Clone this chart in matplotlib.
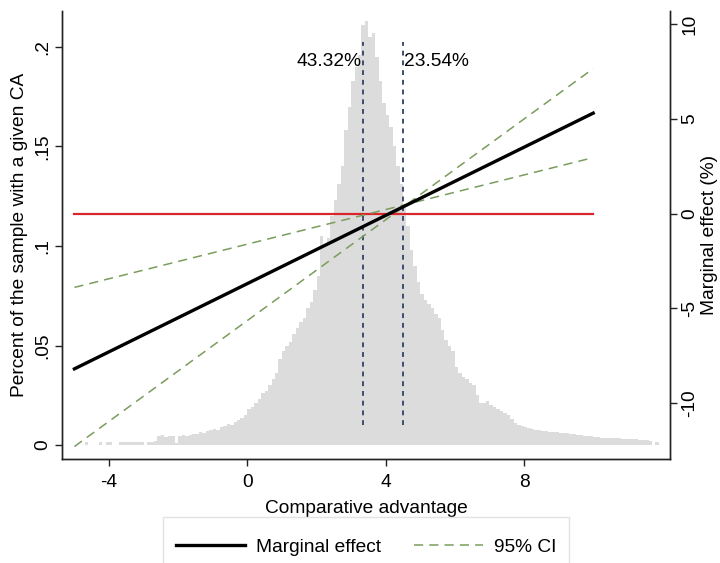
import numpy as np
import matplotlib.pyplot as plt
from matplotlib.patches import Rectangle

plt.rcParams['font.family'] = ['Liberation Sans', 'DejaVu Sans']
plt.rcParams['axes.unicode_minus'] = False

# histogram of comparative advantage (left axis), bins of width 0.1
bin_start = -4.7
bin_width = 0.1
hist_heights = [
    0.0015, 0, 0, 0, 0.0015, 0, 0.0015, 0.0015, 0, 0,
    0.0016, 0.0015, 0.0016, 0.0015, 0.0016, 0.0015, 0.0016, 0, 0.0016, 0.0015,
    0.0018, 0.0045, 0.0050, 0.0042, 0.0048, 0.0046, 0.0010, 0.0044, 0.0050, 0.0046,
    0.0052, 0.0058, 0.0055, 0.0068, 0.0062, 0.0072, 0.0078, 0.0082, 0.0075, 0.0092,
    0.0098, 0.0105, 0.0102, 0.0118, 0.0125, 0.0135, 0.0150, 0.018, 0.019, 0.021,
    0.023, 0.026, 0.027, 0.030, 0.033, 0.036, 0.043, 0.047, 0.050, 0.052,
    0.056, 0.059, 0.062, 0.064, 0.069, 0.072, 0.078, 0.085, 0.105, 0.100,
    0.104, 0.115, 0.123, 0.131, 0.140, 0.158, 0.170, 0.183, 0.190, 0.196,
    0.211, 0.213, 0.205, 0.207, 0.195, 0.183, 0.172, 0.166, 0.160, 0.150,
    0.140, 0.131, 0.120, 0.110, 0.098, 0.090, 0.082, 0.076, 0.073, 0.071,
    0.069, 0.066, 0.064, 0.058, 0.053, 0.050, 0.047, 0.039, 0.036, 0.034,
    0.033, 0.031, 0.030, 0.025, 0.021, 0.021, 0.022, 0.020, 0.019, 0.018,
    0.017, 0.016, 0.015, 0.013, 0.011, 0.010, 0.0095, 0.0090, 0.0088, 0.0082,
    0.0078, 0.0075, 0.0072, 0.0070, 0.0068, 0.0066, 0.0065, 0.0063, 0.0061, 0.0060,
    0.0058, 0.0055, 0.0052, 0.0050, 0.0048, 0.0046, 0.0044, 0.0042, 0.0040, 0.0038,
    0.0037, 0.0036, 0.0035, 0.0035, 0.0034, 0.0033, 0.0032, 0.0031, 0.0030, 0.0030,
    0.0028, 0.0026, 0.0024, 0.0022, 0, 0.0017,
]

# marginal effect and 95% CI (right axis)
line_x = [-5, 10]
me_y = [-8.2, 5.3]
ci_a_y = [-3.9, 2.95]
ci_b_y = [-12.3, 7.65]
zero_y = [0, 0]

# thresholds
thr_x = [3.34, 4.50]
thr_bottom = 0.010
thr_top = 0.2025
thr_labels = ['43.32%', '23.54%']
label_y = 0.1925

fs = 13.8
fig = plt.figure(figsize=(7.2, 5.63), dpi=100)
ax = fig.add_axes([0.0861, 0.1847, 0.8444, 0.7957])
ax2 = ax.twinx()

centers = bin_start + bin_width * (np.arange(len(hist_heights)) + 0.5)
ax.bar(centers, hist_heights, width=bin_width, color='#dcdcdc', linewidth=0, zorder=1)

for xv in thr_x:
    ax.plot([xv, xv], [thr_bottom, thr_top], color='#3e4d6e', lw=1.4,
            linestyle=(0, (2.5, 2.5)), zorder=3)
ax.text(thr_x[0] - 0.03, label_y, thr_labels[0], ha='right', va='center', fontsize=fs)
ax.text(thr_x[1] + 0.03, label_y, thr_labels[1], ha='left', va='center', fontsize=fs)

ax2.plot(line_x, zero_y, color='#d9262b', lw=1.6, zorder=2)
ax2.plot(line_x, ci_a_y, color='#7a9c5c', lw=1.1, linestyle=(0, (6, 4)), zorder=3)
ax2.plot(line_x, ci_b_y, color='#7a9c5c', lw=1.1, linestyle=(0, (6, 4)), zorder=3,
         label='95% CI')
ax2.plot(line_x, me_y, color='black', lw=2.4, zorder=4, label='Marginal effect')

ax.set_xlim(-5.36, 12.22)
ax.set_ylim(-0.007, 0.218)
ax2.set_ylim(-12.96, 10.69)

ax.set_xticks([-4, 0, 4, 8])
ax.set_yticks([0, 0.05, 0.1, 0.15, 0.2])
ax.set_yticklabels(['0', '.05', '.1', '.15', '.2'], rotation=90, va='center')
ax2.set_yticks([-10, -5, 0, 5, 10])
ax2.set_yticklabels(['-10', '-5', '0', '5', '10'], rotation=90, va='center')

for a in (ax, ax2):
    a.spines['top'].set_visible(False)
    for s in a.spines.values():
        s.set_linewidth(1.0)
        s.set_color('#222222')
    a.tick_params(labelsize=fs, length=5, width=1.0, color='#222222', pad=3)
ax.tick_params(axis='x', pad=6)

ax.set_xlabel('Comparative advantage', fontsize=fs, labelpad=6)
ax.set_ylabel('Percent of the sample with a given CA', fontsize=fs, labelpad=4)
ax2.set_ylabel('Marginal effect (%)', fontsize=fs, labelpad=2)

h, l = ax2.get_legend_handles_labels()
fig.legend([h[1], h[0]], [l[1], l[0]], ncol=2, loc='center',
           bbox_to_anchor=(366 / 720, 1 - 547 / 563), frameon=False, fontsize=fs,
           handlelength=3.6, handletextpad=0.6, columnspacing=1.7)
fig.patches.append(Rectangle((163 / 720, -0.05), 406 / 720, 0.05 + (563 - 517) / 563,
                             transform=fig.transFigure, facecolor='none',
                             edgecolor='#e2e2e2', lw=1.0))

fig.savefig('out.png', dpi=100)
